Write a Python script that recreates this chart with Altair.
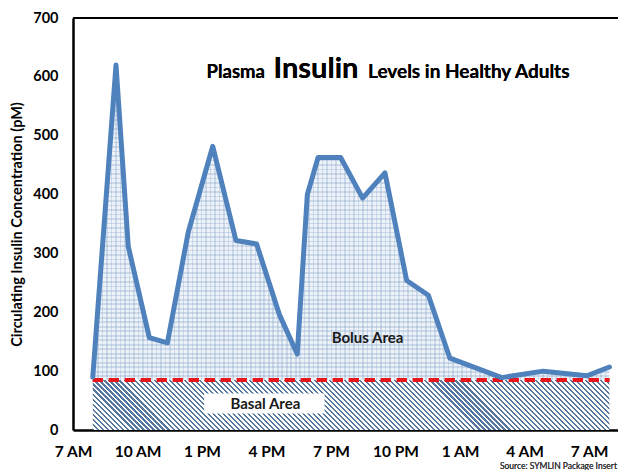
import altair as alt
import pandas as pd

# ---- data ----
hours = [0.92, 2.0, 2.57, 3.55, 4.39, 5.36, 6.5, 7.58, 8.54, 9.6, 10.43, 10.9,
         11.4, 12.45, 13.47, 14.51, 15.52, 16.53, 17.53, 19.94, 21.87, 23.9, 24.95]
insulin = [90, 620, 312, 157, 148, 336, 482, 322, 316, 196, 129, 400,
           463, 463, 394, 437, 254, 229, 122, 89, 100, 92, 107]
basal_level = 85
tick_hours = [0, 3, 6, 9, 12, 15, 18, 21, 24]
tick_labels = ["7 AM", "10 AM", "1 PM", "4 PM", "7 PM", "10 PM", "1 AM", "4 AM", "7 AM"]

W, H = 545, 412
XMAX = 25.35
YMAX = 700
FONT = "Lato"

df = pd.DataFrame({"hour": hours, "value": insulin})
basal_df = pd.DataFrame({"hour": [hours[0], hours[-1]], "basal": [basal_level, basal_level]})

xs = alt.Scale(domain=[0, XMAX], nice=False, zero=False)
ys = alt.Scale(domain=[0, YMAX], nice=False)

label_expr = "{" + ",".join(f"'{h}':'{l}'" for h, l in zip(tick_hours, tick_labels)) + "}[datum.value]"


def stripes(n, frac, c_on, c_off):
    stops = []
    for k in range(n):
        a, b, e = k / n, (k + frac) / n, (k + 1) / n
        stops += [alt.GradientStop(color=c_on, offset=a), alt.GradientStop(color=c_on, offset=b),
                  alt.GradientStop(color=c_off, offset=b), alt.GradientStop(color=c_off, offset=e)]
    return stops


# pixel size of the basal box (for a 45 degree hatch)
bw = (hours[-1] - hours[0]) / XMAX * W
bh = basal_level / YMAX * H
r = bh / bw
c = (1 + r) / (1 + r * r)
n_hatch = int(round((1 + r) * bw / 5.0))
hatch = alt.Gradient(gradient="linear", x1=0, y1=1, x2=c, y2=1 - c * r,
                     stops=stripes(n_hatch, 0.42, "#57789f", "#ffffff"))

# light dotted-grid look for the bolus area
bolus_h = (max(insulin) - basal_level) / YMAX * H
grid_col = "rgba(150,176,208,0.38)"
vgrid = alt.Gradient(gradient="linear", x1=0, y1=0, x2=1, y2=0,
                     stops=stripes(int(round(bw / 4.5)), 0.35, grid_col, "rgba(255,255,255,0)"))
hgrid = alt.Gradient(gradient="linear", x1=0, y1=0, x2=0, y2=1,
                     stops=stripes(int(round(bolus_h / 4.5)), 0.35, grid_col, "rgba(255,255,255,0)"))

base = alt.Chart(df)

x_enc = alt.X("hour:Q", scale=xs, axis=alt.Axis(
    values=tick_hours, labelExpr=label_expr, title=None, grid=False, ticks=False,
    domainColor="black", domainWidth=2.5, labelFont=FONT, labelFontWeight="bold",
    labelFontSize=15.5, labelColor="black", labelPadding=14, labelFlush=False))
y_enc = alt.Y("value:Q", scale=ys, axis=alt.Axis(
    values=list(range(0, 701, 100)), title="Circulating Insulin Concentration (pM)",
    grid=False, ticks=False, domainColor="black", domainWidth=2.5,
    labelFont=FONT, labelFontWeight="bold", labelFontSize=14.5, labelColor="black",
    labelPadding=15, titleFont=FONT, titleFontWeight="bold", titleFontSize=14.5,
    titleColor="black", titlePadding=8))

bolus_base = base.mark_area(fill="#eef3f9").encode(x=x_enc, y=y_enc, y2=alt.datum(basal_level))
bolus_v = base.mark_area(fill=vgrid).encode(x="hour:Q", y="value:Q", y2=alt.datum(basal_level))
bolus_h_ = base.mark_area(fill=hgrid).encode(x="hour:Q", y="value:Q", y2=alt.datum(basal_level))

basal = alt.Chart(basal_df).mark_area(fill=hatch).encode(
    x=alt.X("hour:Q", scale=xs), y=alt.Y("basal:Q", scale=ys), y2=alt.datum(0))

label_box = alt.Chart(pd.DataFrame({"a": [6.1], "b": [11.7], "lo": [28], "hi": [62]})).mark_rect(
    color="white").encode(x="a:Q", x2="b:Q", y="lo:Q", y2="hi:Q")
basal_text = alt.Chart(pd.DataFrame({"h": [8.95], "v": [45], "t": ["Basal Area"]})).mark_text(
    font=FONT, fontWeight="bold", fontSize=15, color="#1a1a1a").encode(x="h:Q", y="v:Q", text="t:N")
bolus_text = alt.Chart(pd.DataFrame({"h": [13.7], "v": [156], "t": ["Bolus Area"]})).mark_text(
    font=FONT, fontWeight="bold", fontSize=15, color="#1a1a1a").encode(x="h:Q", y="v:Q", text="t:N")

dashed = alt.Chart(basal_df).mark_rule(color="#e8161b", strokeWidth=4, strokeDash=[10, 6]).encode(
    x=alt.datum(hours[0]), x2=alt.datum(hours[-1]), y=alt.datum(basal_level))

line = base.mark_line(color="#4f81bd", strokeWidth=5, strokeJoin="round", strokeCap="round").encode(
    x="hour:Q", y="value:Q")

top_border = alt.Chart(basal_df).mark_rule(color="black", strokeWidth=2).encode(y=alt.datum(YMAX))

t1 = alt.Chart(basal_df).mark_text(text="Plasma", font=FONT, fontWeight="bold", fontSize=18.5,
                                   align="right", baseline="alphabetic", color="black").encode(
    x=alt.value(192), y=alt.value(60))
t2 = alt.Chart(basal_df).mark_text(text="Insulin", font=FONT, fontWeight="bold", fontSize=29,
                                   align="center", baseline="alphabetic", color="black").encode(
    x=alt.value(243), y=alt.value(60))
t3 = alt.Chart(basal_df).mark_text(text="Levels in Healthy Adults", font=FONT, fontWeight="bold",
                                   fontSize=19, align="left", baseline="alphabetic", color="black").encode(
    x=alt.value(295), y=alt.value(60))
source = alt.Chart(basal_df).mark_text(text="Source:  SYMLIN Package Insert", font=FONT, fontSize=8.5,
                                       align="right", baseline="middle", color="#333333").encode(
    x=alt.value(W - 1), y=alt.value(H + 36))

chart = alt.layer(
    bolus_base, bolus_v, bolus_h_, basal, label_box, basal_text, dashed, line, bolus_text,
    top_border, t1, t2, t3, source
).properties(
    width=W, height=H,
    autosize=alt.AutoSizeParams(type="none"),
    padding={"left": 65, "top": 10, "right": 0, "bottom": 40},
).configure_view(stroke=None).configure(background="white")

chart.save("out.html", embed_options={"renderer": "svg", "actions": False})
